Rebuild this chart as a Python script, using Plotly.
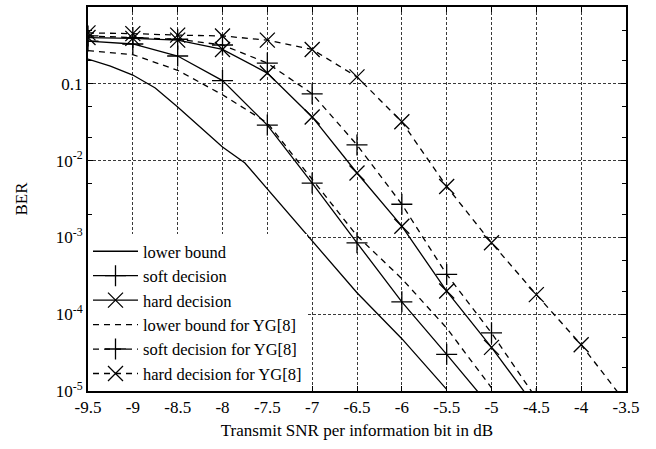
import plotly.graph_objects as go

# x values (Transmit SNR per information bit, dB)
x_lb = [-9.5, -9.25, -9.0, -8.75, -8.5, -8.0, -7.75, -7.5, -7.0, -6.5, -6.0, -5.5]
lower_bound = [0.21, 0.17, 0.13, 0.088, 0.05, 0.015, 0.0093, 0.0043, 8.9e-4, 1.9e-4, 4.8e-5, 1.05e-5]

x_soft = [-9.5, -9.0, -8.5, -8.0, -7.5, -7.0, -6.5, -6.0, -5.5, -5.0]
soft_decision = [0.36, 0.33, 0.23, 0.11, 0.029, 0.0051, 8.5e-4, 1.45e-4, 3.0e-5, 6e-6]

x_hard = [-9.5, -9.0, -8.5, -8.0, -7.5, -7.0, -6.5, -6.0, -5.5, -5.0, -4.5]
hard_decision = [0.40, 0.39, 0.37, 0.28, 0.138, 0.037, 0.0069, 0.0014, 2.0e-4, 3.7e-5, 6e-6]

x_lb_yg = [-9.5, -9.0, -8.5, -8.0, -7.5, -7.0, -6.5, -6.0, -5.5, -5.0]
lower_bound_yg = [0.27, 0.24, 0.15, 0.072, 0.031, 0.0057, 0.00105, 2.9e-4, 6.6e-5, 1.1e-5]

x_soft_yg = [-9.5, -9.0, -8.5, -8.0, -7.5, -7.0, -6.5, -6.0, -5.5, -5.0, -4.5]
soft_decision_yg = [0.42, 0.40, 0.38, 0.32, 0.186, 0.074, 0.016, 0.0027, 3.3e-4, 5.7e-5, 8e-6]

x_hard_yg = [-9.5, -9.0, -8.5, -8.0, -7.5, -7.0, -6.5, -6.0, -5.5, -5.0, -4.5, -4.0, -3.5]
hard_decision_yg = [0.46, 0.45, 0.43, 0.42, 0.37, 0.28, 0.123, 0.032, 0.0046, 8.5e-4, 1.8e-4, 4.0e-5, 7e-6]

x_ticks = [-9.5, -9, -8.5, -8, -7.5, -7, -6.5, -6, -5.5, -5, -4.5, -4, -3.5]
x_ticktext = ["-9.5", "-9", "-8.5", "-8", "-7.5", "-7", "-6.5", "-6", "-5.5", "-5", "-4.5", "-4", "-3.5"]
y_ticks = [1e-5, 1e-4, 1e-3, 1e-2, 0.1, 1]
y_ticktext = ["10<sup>-5</sup>", "10<sup>-4</sup>", "10<sup>-3</sup>", "10<sup>-2</sup>", "0.1", "1"]

FONT = "Liberation Serif, Times New Roman, serif"
DASH = "6px,5px"

series = [
    ("lower bound", x_lb, lower_bound, "solid", None),
    ("soft decision", x_soft, soft_decision, "solid", "cross-thin-open"),
    ("hard decision", x_hard, hard_decision, "solid", "x-thin-open"),
    ("lower bound for YG[8]", x_lb_yg, lower_bound_yg, DASH, None),
    ("soft decision for YG[8]", x_soft_yg, soft_decision_yg, DASH, "cross-thin-open"),
    ("hard decision for YG[8]", x_hard_yg, hard_decision_yg, DASH, "x-thin-open"),
]

fig = go.Figure()
for i, (name, xs, ys, dash, sym) in enumerate(series):
    kw = dict(mode="lines")
    if sym:
        kw = dict(mode="lines+markers",
                  marker=dict(symbol=sym, size=15, color="black",
                              line=dict(color="black", width=1.3)))
    fig.add_trace(go.Scatter(x=xs, y=ys, name=name,
                             line=dict(color="black", width=1.3, dash=dash),
                             cliponaxis=True, **kw))

axis_common = dict(showline=True, linecolor="black", linewidth=2, mirror="ticks",
                   ticks="inside", tickcolor="black", ticklen=5, tickwidth=1,
                   showgrid=True, gridcolor="#3a3a3a", gridwidth=1, griddash="3px,2px",
                   zeroline=False, tickfont=dict(family=FONT, size=17, color="black"))

fig.update_xaxes(range=[-9.5, -3.5], tickvals=x_ticks, ticktext=x_ticktext,
                 title=dict(text="Transmit SNR per information bit in dB",
                            font=dict(family=FONT, size=17, color="black"), standoff=8),
                 **axis_common)
fig.update_yaxes(type="log", range=[-5, 0], tickvals=y_ticks, ticktext=y_ticktext,
                 title=dict(text="BER", font=dict(family=FONT, size=17, color="black"), standoff=24),
                 minor=dict(ticks="inside", ticklen=4, tickcolor="black", dtick="D2", showgrid=False),
                 **axis_common)

fig.update_layout(
    width=656, height=449,
    margin=dict(l=88, r=30, t=7, b=58, autoexpand=False),
    paper_bgcolor="white", plot_bgcolor="white",
    font=dict(family=FONT, size=17, color="black"),
    legend=dict(x=0, y=0, xanchor="left", yanchor="bottom", bgcolor="white",
                borderwidth=0, itemwidth=45, tracegroupgap=0,
                font=dict(family=FONT, size=16.5, color="black")),
    showlegend=True,
)

fig.write_html("out.html")
